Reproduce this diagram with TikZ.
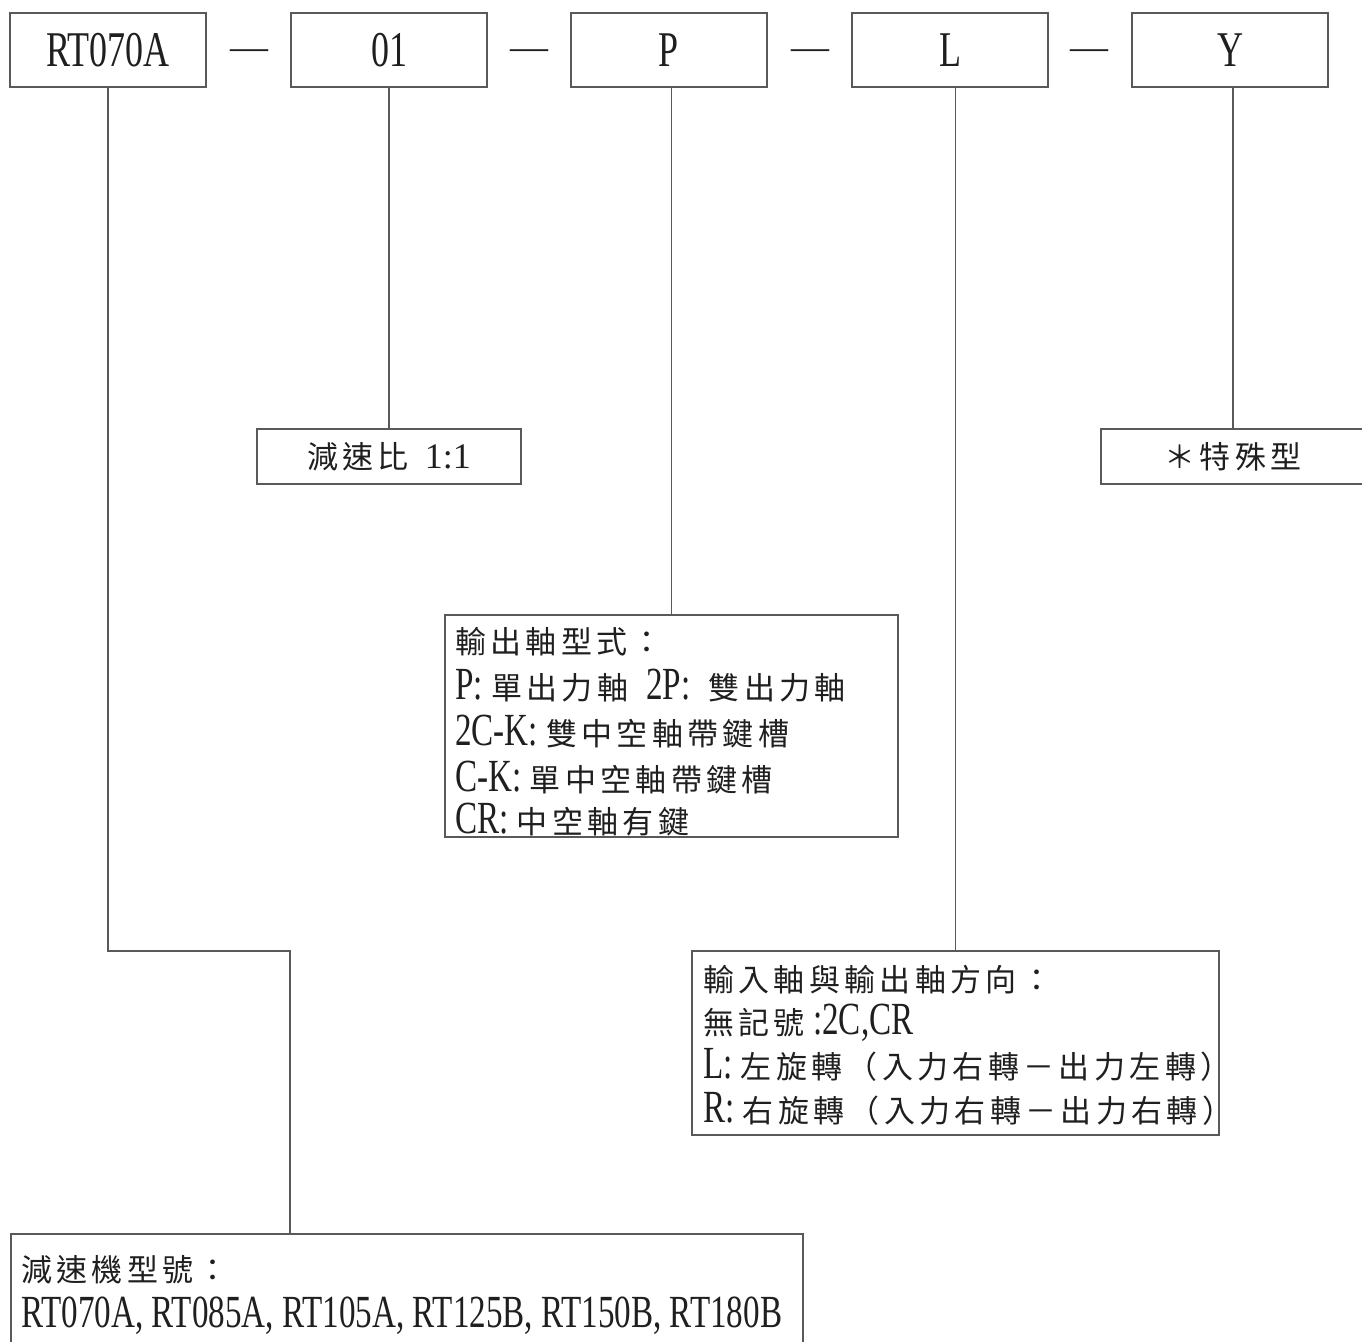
\documentclass[tikz,border=0pt]{standalone}
\usepackage{fontspec}
\setmainfont[FakeStretch=0.72]{Liberation Serif}
\newfontfamily\plainserif{Liberation Serif}
\newfontfamily\cjk[LetterSpace=14]{Noto Sans CJK TC}
\newcommand\zh[1]{{\cjk\fontsize{31}{33}\selectfont #1}}
\colorlet{linegray}{black!65}
\colorlet{inkc}{black!88}
\tikzset{
  frame/.style={draw=linegray, line width=1.5pt, inner sep=0pt, text=inkc},
  topbox/.style={frame, minimum width=196pt, minimum height=74pt,
    font=\fontsize{50}{60}\selectfont},
  link/.style={draw=linegray, line width=1.5pt},
  sepdash/.style={anchor=base, inner sep=0pt, text=inkc,
    font=\plainserif\fontsize{38}{40}\selectfont},
  descline/.style={anchor=base west, inner sep=0pt, text=inkc,
    font=\fontsize{46}{50}\selectfont},
}
\begin{document}
\begin{tikzpicture}[x=1pt,y=-1pt]
\useasboundingbox (0,0) rectangle (1362,1341);
\clip (0,0) rectangle (1362,1341);

% top code boxes
\node[topbox] (b1) at (108,50) {RT070A};
\node[topbox] (b2) at (389,50) {01};
\node[topbox] (b3) at (669,50) {P};
\node[topbox] (b4) at (950,50) {L};
\node[topbox] (b5) at (1230,50) {Y};
\node[sepdash] (d1) at (249,59) {—};
\node[sepdash] (d2) at (529,59) {—};
\node[sepdash] (d3) at (810,59) {—};
\node[sepdash] (d4) at (1089,59) {—};

% ratio box
\node[frame, minimum width=264pt, minimum height=55pt] (ratio) at (389,456.5)
  {\zh{減速比}\hspace{16pt}{\plainserif\fontsize{36}{38}\selectfont 1:1}};

% special box
\node[frame, minimum width=264pt, minimum height=55pt] (special) at (1233,456.5)
  {\zh{＊特殊型}};

% output shaft box
\node[frame, minimum width=453pt, minimum height=222pt] (pbox) at (671.5,726) {};
\node[descline] (p1) at (455,653) {\zh{輸出軸型式：}};
\node[descline] (p2) at (455,699) {P: \zh{單出力軸}\hspace{10pt} 2P:\hspace{10pt} \zh{雙出力軸}};
\node[descline] (p3) at (455,745) {2C-K: \zh{雙中空軸帶鍵槽}};
\node[descline] (p4) at (455,791) {C-K: \zh{單中空軸帶鍵槽}};
\node[descline] (p5) at (455,833) {CR: \zh{中空軸有鍵}};

% direction box
\node[frame, minimum width=527pt, minimum height=184pt] (lbox) at (955.5,1043) {};
\node[descline] (l1) at (703,991) {\zh{輸入軸與輸出軸方向：}};
\node[descline] (l2) at (703,1034) {\zh{無記號} :2C,CR};
\node[descline] (l3) at (703,1078) {L: \zh{左旋轉（入力右轉－出力左轉）}};
\node[descline] (l4) at (703,1122) {R: \zh{右旋轉（入力右轉－出力右轉）}};

% model box
\node[frame, minimum width=792pt, minimum height=130pt] (mbox) at (407,1299) {};
\node[descline] (m1) at (21,1281) {\zh{減速機型號：}};
\node[descline] (m2) at (21,1327) {RT070A, RT085A, RT105A, RT125B, RT150B, RT180B};

% connectors
\coordinate (elbow) at (290,951);
\draw[link] (b1.south) |- (elbow) -- (elbow |- mbox.north);
\draw[link] (b2.south) -- (ratio.north);
\draw[link] (pbox.north) -- (pbox.north |- b3.south);
\draw[link] (lbox.north) -- (lbox.north |- b4.south);
\draw[link] (special.north) -- (special.north |- b5.south);
\end{tikzpicture}
\end{document}
